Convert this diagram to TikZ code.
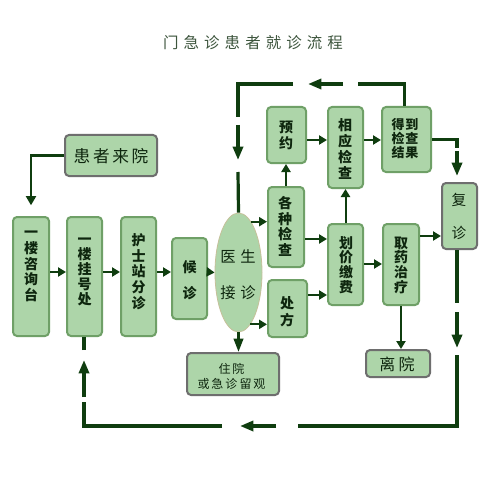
\documentclass[tikz,border=0pt]{standalone}
\usepackage{fontspec}
\usetikzlibrary{arrows.meta,shapes.geometric}
\newfontfamily\cjk{Noto Sans CJK SC}
\definecolor{lc}{HTML}{0F3D0F}
\definecolor{fillg}{HTML}{ADD5A9}
\definecolor{bord}{HTML}{6FA067}
\definecolor{grayb}{HTML}{6E6E6E}
\definecolor{tc}{HTML}{0E260E}
\definecolor{titlec}{HTML}{3D553D}
\definecolor{ellb}{HTML}{C5C09A}
\tikzset{
  sz/.style 2 args={minimum width=#1*0.75pt, minimum height=#2*0.75pt},
  gbox/.style={draw=bord, fill=fillg, line width=1.5pt, rounded corners=3pt, inner sep=0pt},
  graybox/.style={gbox, draw=grayb},
  bt/.style={font=\cjk\bfseries\fontsize{10.5}{#1}\selectfont, text=tc, align=center, inner sep=0pt},
  rt/.style={font=\cjk\fontsize{#1}{#1}\selectfont, text=tc, align=center, inner sep=0pt},
  sarr/.style={draw=lc, line width=1.5pt, -{Triangle[length=6pt,width=6.8pt]}},
  larr/.style={draw=lc, line width=2.4pt, -{Triangle[length=10pt,width=7.5pt]}},
  lline/.style={draw=lc, line width=2.4pt},
}
\begin{document}
\begin{tikzpicture}[x=0.75pt,y=-0.75pt]
\fill[white] (0,0) rectangle (499,499);
\useasboundingbox (0,0) rectangle (499,499);

% title
\node[font=\cjk\fontsize{11.6}{14}\selectfont, text=titlec, inner sep=0pt] (title) at (253,43)
  {门\kern3.8pt 急\kern3.8pt 诊\kern3.8pt 患\kern3.8pt 者\kern3.8pt 就\kern3.8pt 诊\kern3.8pt 流\kern3.8pt 程};

% boxes
\node[graybox, sz={92}{41}] (p1) at (111,155.5) {};
\node[gbox, sz={36}{119}] (a) at (31,276.5) {};
\node[gbox, sz={35}{119}] (b) at (84.5,276.5) {};
\node[gbox, sz={35}{119}] (c) at (138.5,276.5) {};
\node[gbox, sz={35}{81}] (d) at (189.5,278.5) {};
\node[ellipse, draw=ellb, fill=fillg, line width=0.6pt, inner sep=0pt, sz={47}{119}] (e) at (238.5,272.5) {};
\node[gbox, sz={39}{56}] (f) at (286.5,135) {};
\node[gbox, sz={35}{81}] (g) at (345.5,147.5) {};
\node[gbox, sz={49}{65}] (h) at (406.5,139.5) {};
\node[graybox, sz={35}{66}] (i) at (459.5,216) {};
\node[gbox, sz={36}{80}] (j) at (286,227) {};
\node[gbox, sz={39}{57}] (k) at (287.5,308.5) {};
\node[gbox, sz={35}{81}] (l) at (345.5,264.5) {};
\node[gbox, sz={36}{81}] (m) at (401,264.5) {};
\node[graybox, sz={64}{27}] (n) at (398,363.5) {};
\node[graybox, sz={92}{42}] (o) at (233,374) {};

% texts
\node[rt=12.5] (p1t) at (111,156) {患\kern2pt 者\kern2pt 来\kern2pt 院};
\node[bt=11.8pt] (at) at (31,266.5) {一\\楼\\咨\\询\\台};
\node[bt=11.25pt] (bt) at (84.5,272) {一\\楼\\挂\\号\\处};
\node[bt=11.8pt] (ct) at (138.5,271.5) {护\\士\\站\\分\\诊};
\node[bt=19.5pt] (dt) at (189.5,280) {候\\诊};
\node[rt=11.5, font=\cjk\fontsize{11.5}{27}\selectfont] (et) at (238,275) {医\kern3.5pt 生\\接\kern3.5pt 诊};
\node[bt=12pt] (ft) at (286,135) {预\\约};
\node[bt=12pt] (gt) at (345,149) {相\\应\\检\\查};
\node[bt=10.5pt, font=\cjk\bfseries\fontsize{9.75}{10.5}\selectfont] (ht) at (405,139) {得\kern0.75pt 到\\检\kern0.75pt 查\\结\kern0.75pt 果};
\node[bt=11.8pt] (jt) at (285,226.5) {各\\种\\检\\查};
\node[bt=12.75pt] (kt) at (287,311.5) {处\\方};
\node[bt=11pt] (lt) at (346,265) {划\\价\\缴\\费};
\node[bt=11pt] (mt) at (401,265) {取\\药\\治\\疗};
\node[rt=11, font=\cjk\fontsize{11}{24.75}\selectfont] (it) at (459,216.5) {复\\诊};
\node[rt=12] (nt) at (397,364) {离\kern2.5pt 院};
\node[rt=9, font=\cjk\fontsize{9}{11.25}\selectfont] (ot) at (231.5,376.5) {住\kern1.5pt 院\\或\kern1.5pt 急\kern1.5pt 诊\kern1.5pt 留\kern1.5pt 观};

% helper rows
\coordinate (r272) at (0,272);
\coordinate (r140) at (0,140);
\coordinate (r239) at (0,239);
\coordinate (r295) at (0,295);
\coordinate (r264) at (0,264);
\coordinate (r236) at (0,236);

% patient arrow
\draw[draw=lc, line width=1.9pt, -{Triangle[length=7pt,width=7.5pt]}, shorten >=8pt] (p1.west) -| (a.north);

% main row
\draw[sarr] (a.east |- r272) -- (b.west |- r272);
\draw[sarr] (b.east |- r272) -- (c.west |- r272);
\draw[sarr] (c.east |- r272) -- (d.west |- r272);
\draw[sarr] (d.east |- r272) -- (e.west);

% from doctor
\draw[sarr] (e.76) -- (j.west |- e.76);
\draw[sarr] (e.-77) -- (k.west |- e.-77);
\draw[draw=lc, line width=2pt, -{Triangle[length=10pt,width=7pt]}] (e.south) -- (o.north -| e.south);

% middle
\draw[sarr] (j.north) -- (f.south -| j.north);
\draw[sarr] (f.east |- r140) -- (g.west |- r140);
\draw[sarr] (g.east |- r140) -- (h.west |- r140);
\draw[sarr] (j.east |- r239) -- (l.west |- r239);
\draw[sarr] (k.east |- r295) -- (l.west |- r295);
\draw[sarr] (l.north) -- (g.south -| l.north);
\draw[sarr] (l.east |- r264) -- (m.west |- r264);
\draw[sarr] (m.east |- r236) -- (i.west |- r236);
\draw[sarr] (m.south) -- (n.north -| m.south);

% top loop
\coordinate (T1) at (358,84);
\coordinate (T2) at (343,84);
\coordinate (T3) at (308,84);
\coordinate (T4) at (293,84);
\coordinate (T5) at (238,117);
\coordinate (T6) at (238,125);
\coordinate (T7) at (238,160);
\coordinate (T8) at (238,172);
\draw[lline] ([xshift=-1.7pt]h.north) |- (T1);
\draw[larr] (T2) -- (T3);
\draw[lline] (T4) -| (T5);
\draw[larr] (T6) -- (T7);
\draw[lline] (T8) -- (e.north);

% result to revisit
\coordinate (R1) at (457,148);
\coordinate (R2) at (457,151);
\coordinate (R3) at (457,176);
\draw[lline] (h.east) -| (R1);
\draw[larr] (R2) -- (R3);

% bottom loop
\coordinate (B1) at (457,303);
\coordinate (B2) at (457,312);
\coordinate (B3) at (457,348);
\coordinate (B4) at (457,355);
\coordinate (B5) at (298,426);
\coordinate (B6) at (276,426);
\coordinate (B7) at (240,426);
\coordinate (B8) at (222,426);
\coordinate (B9) at (84,402);
\coordinate (B10) at (84,397);
\coordinate (B11) at (84,360);
\coordinate (B12) at (84,350);
\draw[lline] (i.south -| B1) -- (B1);
\draw[larr] (B2) -- (B3);
\draw[lline] (B4) |- (B5);
\draw[larr] (B6) -- (B7);
\draw[lline] (B8) -| (B9);
\draw[larr] (B10) -- (B11);
\draw[lline] (B12) -- (b.south -| B12);
\end{tikzpicture}
\end{document}
